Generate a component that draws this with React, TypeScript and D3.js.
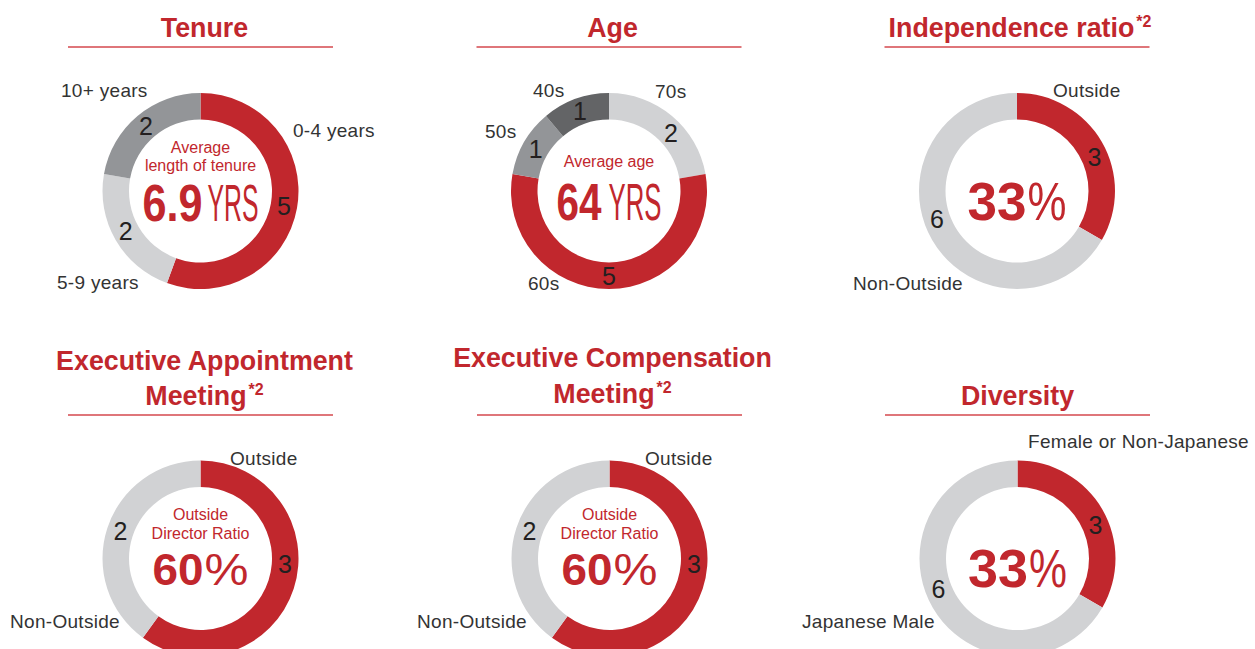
import React from "react";
import * as d3 from "d3";

// ---- data ----
const tenureCategories = ["0-4 years", "5-9 years", "10+ years"];
const tenureValues = [5, 2, 2];

const ageCategories = ["70s", "60s", "50s", "40s"];
const ageValues = [2, 5, 1, 1];

const independenceCategories = ["Outside", "Non-Outside"];
const independenceValues = [3, 6];

const appointmentCategories = ["Outside", "Non-Outside"];
const appointmentValues = [3, 2];

const compensationCategories = ["Outside", "Non-Outside"];
const compensationValues = [3, 2];

const diversityCategories = ["Female or Non-Japanese", "Japanese Male"];
const diversityValues = [3, 6];

const RED = "#c1272d";
const LIGHT = "#d1d2d4";
const MID = "#939598";
const DARK = "#636466";
const TEXT = "#333333";
const FONT = "'Liberation Sans', Arial, Helvetica, sans-serif";

const OUTER = 98;
const INNER = 71.5;

// advance widths (em) of Liberation Sans / Arial, used to squeeze the big numbers
const ADV_BOLD: Record<string, number> = { "0": 0.556, "3": 0.556, "4": 0.556, "6": 0.556, "9": 0.556, ".": 0.278 };
const ADV_REG: Record<string, number> = { Y: 0.667, R: 0.722, S: 0.667, "%": 0.889 };
const natural = (s: string, bold: boolean, size: number) =>
  d3.sum(s.split(""), (ch) => (bold ? ADV_BOLD[ch] : ADV_REG[ch]) || 0.556) * size;

type Label = { dx: number; dy: number };
type Big = { text: string; bold: boolean; width: number };

interface DonutProps {
  cx: number;
  cy: number;
  categories: string[];
  values: number[];
  colors: string[];
  labels: Label[];
  nudges: number[]; // degrees added to the centroid angle of each value label
  titleLines: string[];
  titleBaselines: number[];
  titleDx: number;
  sup?: boolean;
  underlineY: number;
  caption: string[];
  captionBaselines: number[];
  big: Big[];
  bigSize: number;
  bigBaseline: number;
  bigGap: number;
}

const Donut = (p: DonutProps) => {
  const pie = d3.pie<number>().sort(null).value((d) => d);
  const arcs = pie(p.values);
  const arc = d3.arc<d3.PieArcDatum<number>>().innerRadius(INNER).outerRadius(OUTER);
  const mid = (INNER + OUTER) / 2;

  const totalW = d3.sum(p.big, (b) => b.width) + p.bigGap * (p.big.length - 1);
  let bx = -totalW / 2;

  return (
    <g transform={`translate(${p.cx},${p.cy})`}>
      {/* title */}
      {p.titleLines.map((t, i) => (
        <text
          key={"t" + i}
          x={p.titleDx}
          y={p.titleBaselines[i] - p.cy}
          textAnchor="middle"
          fontFamily={FONT}
          fontWeight="bold"
          fontSize={26.8}
          fill={RED}
        >
          {t}
          {p.sup && i === p.titleLines.length - 1 && (
            <tspan fontSize={16} dy={-10} dx={2}>
              *2
            </tspan>
          )}
        </text>
      ))}
      <line
        x1={-132.5}
        x2={132.5}
        y1={p.underlineY - p.cy}
        y2={p.underlineY - p.cy}
        stroke="#d4494e"
        strokeWidth={1.3}
      />

      {/* ring */}
      {arcs.map((a, i) => (
        <path key={"a" + i} d={arc(a) || ""} fill={p.colors[i]} />
      ))}

      {/* value labels */}
      {arcs.map((a, i) => {
        const ang = (a.startAngle + a.endAngle) / 2 + ((p.nudges[i] || 0) * Math.PI) / 180;
        return (
          <text
            key={"v" + i}
            x={mid * Math.sin(ang)}
            y={-mid * Math.cos(ang)}
            dy="0.36em"
            textAnchor="middle"
            fontFamily={FONT}
            fontSize={25}
            fill="#231f20"
          >
            {a.data}
          </text>
        );
      })}

      {/* category labels */}
      {p.categories.map((c, i) => (
        <text
          key={"c" + i}
          x={p.labels[i].dx}
          y={p.labels[i].dy}
          fontFamily={FONT}
          fontSize={19}
          letterSpacing={0.3}
          fill={TEXT}
        >
          {c}
        </text>
      ))}

      {/* centre caption */}
      {p.caption.map((c, i) => (
        <text
          key={"k" + i}
          x={0}
          y={p.captionBaselines[i] - p.cy}
          textAnchor="middle"
          fontFamily={FONT}
          fontSize={16}
          fill={RED}
        >
          {c}
        </text>
      ))}
      {p.big.map((b, i) => {
        const x = bx;
        bx += b.width + p.bigGap;
        const sx = b.width / natural(b.text, b.bold, p.bigSize);
        return (
          <text
            key={"b" + i}
            transform={`translate(${x},${p.bigBaseline - p.cy}) scale(${sx},1)`}
            fontFamily={FONT}
            fontWeight={b.bold ? "bold" : "normal"}
            fontSize={p.bigSize}
            fill={RED}
          >
            {b.text}
          </text>
        );
      })}
    </g>
  );
};

export default function App() {
  return (
    <svg width={1255} height={649} style={{ position: "absolute", left: 0, top: 0, background: "#fff" }}>
      <Donut
        cx={200.5}
        cy={191}
        categories={tenureCategories}
        values={tenureValues}
        colors={[RED, LIGHT, MID]}
        labels={[
          { dx: 92.5, dy: -54 },
          { dx: -143.5, dy: 98 },
          { dx: -139.5, dy: -94 },
        ]}
        nudges={[0, 2, 0]}
        titleLines={["Tenure"]}
        titleBaselines={[37]}
        titleDx={4}
        underlineY={47}
        caption={["Average", "length of tenure"]}
        captionBaselines={[153, 171]}
        big={[
          { text: "6.9", bold: true, width: 60 },
          { text: "YRS", bold: false, width: 51 },
        ]}
        bigSize={51}
        bigBaseline={221}
        bigGap={5}
      />
      <Donut
        cx={609}
        cy={191}
        categories={ageCategories}
        values={ageValues}
        colors={[LIGHT, RED, MID, DARK]}
        labels={[
          { dx: 46, dy: -93 },
          { dx: -81, dy: 99 },
          { dx: -124, dy: -53 },
          { dx: -76, dy: -94 },
        ]}
        nudges={[7, 0, 0, 0]}
        titleLines={["Age"]}
        titleBaselines={[37]}
        titleDx={3.5}
        underlineY={47}
        caption={["Average age"]}
        captionBaselines={[167]}
        big={[
          { text: "64", bold: true, width: 45 },
          { text: "YRS", bold: false, width: 53 },
        ]}
        bigSize={52}
        bigBaseline={220}
        bigGap={7}
      />
      <Donut
        cx={1017}
        cy={191}
        categories={independenceCategories}
        values={independenceValues}
        colors={[RED, LIGHT]}
        labels={[
          { dx: 36, dy: -94 },
          { dx: -164, dy: 99 },
        ]}
        nudges={[6, 11]}
        titleLines={["Independence ratio"]}
        titleBaselines={[37]}
        titleDx={3}
        sup
        underlineY={47}
        caption={[]}
        captionBaselines={[]}
        big={[
          { text: "33", bold: true, width: 59 },
          { text: "%", bold: false, width: 39 },
        ]}
        bigSize={53}
        bigBaseline={220}
        bigGap={1}
      />
      <Donut
        cx={200.5}
        cy={558.5}
        categories={appointmentCategories}
        values={appointmentValues}
        colors={[RED, LIGHT]}
        labels={[
          { dx: 29.5, dy: -93.5 },
          { dx: -190.5, dy: 69.5 },
        ]}
        nudges={[-14, 1]}
        titleLines={["Executive Appointment", "Meeting"]}
        titleBaselines={[370, 405]}
        titleDx={4}
        sup
        underlineY={415}
        caption={["Outside", "Director Ratio"]}
        captionBaselines={[520, 539]}
        big={[
          { text: "60", bold: true, width: 51 },
          { text: "%", bold: false, width: 44 },
        ]}
        bigSize={45}
        bigBaseline={585}
        bigGap={1}
      />
      <Donut
        cx={609.5}
        cy={558.5}
        categories={compensationCategories}
        values={compensationValues}
        colors={[RED, LIGHT]}
        labels={[
          { dx: 35.5, dy: -93.5 },
          { dx: -192.5, dy: 69.5 },
        ]}
        nudges={[-14, 1]}
        titleLines={["Executive Compensation", "Meeting"]}
        titleBaselines={[367, 403]}
        titleDx={3}
        sup
        underlineY={415}
        caption={["Outside", "Director Ratio"]}
        captionBaselines={[520, 539]}
        big={[
          { text: "60", bold: true, width: 51 },
          { text: "%", bold: false, width: 44 },
        ]}
        bigSize={45}
        bigBaseline={585}
        bigGap={1}
      />
      <Donut
        cx={1017.5}
        cy={558.5}
        categories={diversityCategories}
        values={diversityValues}
        colors={[RED, LIGHT]}
        labels={[
          { dx: 10.5, dy: -110.5 },
          { dx: -215.5, dy: 69.5 },
        ]}
        nudges={[7, 9]}
        titleLines={["Diversity"]}
        titleBaselines={[405]}
        titleDx={0}
        underlineY={415}
        caption={[]}
        captionBaselines={[]}
        big={[
          { text: "33", bold: true, width: 60 },
          { text: "%", bold: false, width: 38 },
        ]}
        bigSize={53}
        bigBaseline={587}
        bigGap={1}
      />
    </svg>
  );
}
